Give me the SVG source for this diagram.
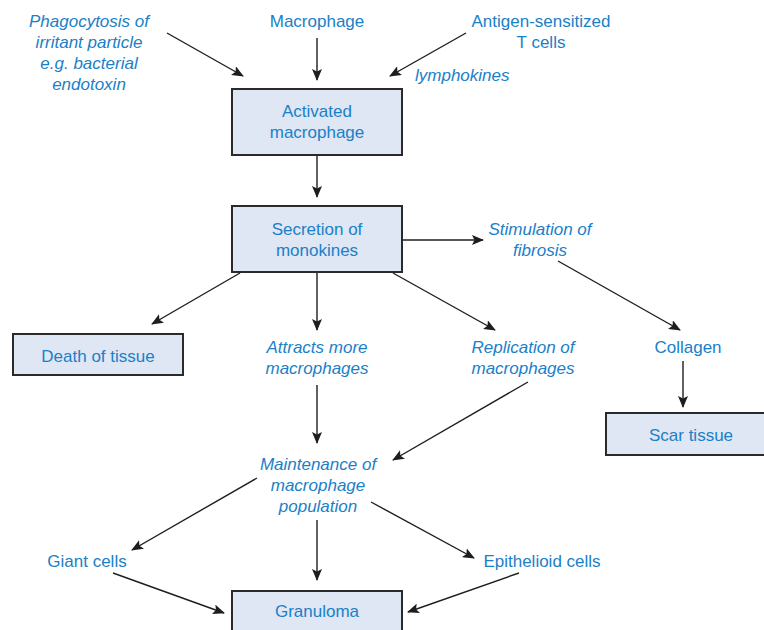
<svg xmlns="http://www.w3.org/2000/svg" width="764" height="630" viewBox="0 0 764 630">
  <defs>
    <marker id="arrow" viewBox="0 0 12 10" refX="11" refY="5" markerWidth="12" markerHeight="10" markerUnits="userSpaceOnUse" orient="auto">
      <path d="M0,0 L12,5 L0,10 L2.5,5 Z" fill="#1e1e1e"/>
    </marker>
    <style>
      .box { fill: #dfe6f4; stroke: #2a2a2a; stroke-width: 2; }
      text { font-family: "Liberation Sans", Arial, sans-serif; font-size: 17px; fill: #1a80c8; text-anchor: middle; }
      .it { font-style: italic; }
      .edge { stroke: #1e1e1e; stroke-width: 1.4; fill: none; marker-end: url(#arrow); }
    </style>
  </defs>
  <rect width="764" height="630" fill="#ffffff"/>

  <!-- connectors -->
  <g id="connectors">
    <line class="edge" x1="167" y1="33" x2="243" y2="76"/>
    <line class="edge" x1="317" y1="38" x2="317" y2="80"/>
    <line class="edge" x1="466" y1="33" x2="390" y2="76"/>
    <line class="edge" x1="317" y1="155" x2="317" y2="197"/>
    <line class="edge" x1="402" y1="240" x2="483" y2="240"/>
    <line class="edge" x1="240" y1="273" x2="152" y2="324"/>
    <line class="edge" x1="317" y1="273" x2="317" y2="330"/>
    <line class="edge" x1="393" y1="273" x2="495" y2="330"/>
    <line class="edge" x1="558" y1="261" x2="680" y2="330"/>
    <line class="edge" x1="683" y1="361" x2="683" y2="407"/>
    <line class="edge" x1="528" y1="382" x2="393" y2="460"/>
    <line class="edge" x1="317" y1="385" x2="317" y2="443"/>
    <line class="edge" x1="257" y1="478" x2="132" y2="550"/>
    <line class="edge" x1="317" y1="520" x2="317" y2="580"/>
    <line class="edge" x1="371" y1="502" x2="474" y2="558"/>
    <line class="edge" x1="113" y1="573" x2="224" y2="613"/>
    <line class="edge" x1="519" y1="573" x2="408" y2="612"/>
  </g>

  <!-- sources -->
  <g id="phagocytosis">
    <text class="it" x="89" y="27">Phagocytosis of</text>
    <text class="it" x="89" y="48">irritant particle</text>
    <text class="it" x="89" y="69">e.g. bacterial</text>
    <text class="it" x="89" y="90">endotoxin</text>
  </g>
  <g id="macrophage">
    <text x="317" y="27">Macrophage</text>
  </g>
  <g id="tcells">
    <text x="541" y="27">Antigen-sensitized</text>
    <text x="541" y="48">T cells</text>
  </g>
  <g id="lymphokines">
    <text class="it" x="415" y="81" style="text-anchor:start">lymphokines</text>
  </g>

  <!-- boxes -->
  <g id="activated">
    <rect class="box" x="232" y="89" width="170" height="66"/>
    <text x="317" y="117">Activated</text>
    <text x="317" y="138">macrophage</text>
  </g>
  <g id="secretion">
    <rect class="box" x="232" y="206" width="170" height="66"/>
    <text x="317" y="235">Secretion of</text>
    <text x="317" y="256">monokines</text>
  </g>
  <g id="stimulation">
    <text class="it" x="540" y="235">Stimulation of</text>
    <text class="it" x="540" y="256">fibrosis</text>
  </g>
  <g id="death">
    <rect class="box" x="13" y="334" width="170" height="41"/>
    <text x="98" y="362">Death of tissue</text>
  </g>
  <g id="attracts">
    <text class="it" x="317" y="353">Attracts more</text>
    <text class="it" x="317" y="374">macrophages</text>
  </g>
  <g id="replication">
    <text class="it" x="523" y="353">Replication of</text>
    <text class="it" x="523" y="374">macrophages</text>
  </g>
  <g id="collagen">
    <text x="688" y="353">Collagen</text>
  </g>
  <g id="scar">
    <rect class="box" x="606" y="413" width="170" height="42"/>
    <text x="691" y="441">Scar tissue</text>
  </g>
  <g id="maintenance">
    <text class="it" x="318" y="470">Maintenance of</text>
    <text class="it" x="318" y="491">macrophage</text>
    <text class="it" x="318" y="512">population</text>
  </g>
  <g id="giant">
    <text x="87" y="567">Giant cells</text>
  </g>
  <g id="epithelioid">
    <text x="542" y="567">Epithelioid cells</text>
  </g>
  <g id="granuloma">
    <rect class="box" x="232" y="591" width="170" height="50"/>
    <text x="317" y="617">Granuloma</text>
  </g>
</svg>
